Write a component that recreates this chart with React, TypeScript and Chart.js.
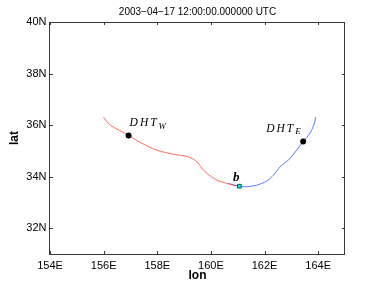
import React, { useEffect, useRef } from "react";
import { Chart, registerables } from "chart.js";

Chart.register(...registerables);

const TITLE = "2003−04−17 12:00:00.000000 UTC";
const X_TICKS = [154, 156, 158, 160, 162, 164];
const Y_TICKS = [32, 34, 36, 38, 40];
const X_MIN = 154;
const X_MAX = 165;
const Y_MIN = 31;
const Y_MAX = 40;

// west branch (red)
const WEST_LON = [155.99, 156.24, 156.93, 157.36, 157.98, 158.6, 159.16, 159.47, 159.78, 160.22, 160.59, 160.83, 161.05];
const WEST_LAT = [36.31, 36.01, 35.6, 35.33, 35.03, 34.87, 34.77, 34.58, 34.19, 33.87, 33.74, 33.67, 33.64];

// east branch (blue)
const EAST_LON = [160.65, 161.06, 161.33, 161.71, 162.08, 162.33, 162.58, 162.95, 163.44, 163.69, 163.84, 163.91];
const EAST_LAT = [33.74, 33.63, 33.61, 33.67, 33.83, 34.06, 34.38, 34.71, 35.36, 35.68, 36.01, 36.31];

// black markers
const DHT_NAMES = ["W", "E"];
const DHT_LON = [156.93, 163.44];
const DHT_LAT = [35.6, 35.36];

// cyan square
const B_LON = [161.06];
const B_LAT = [33.63];

const toXY = (xs: number[], ys: number[]) => xs.map((x, i) => ({ x, y: ys[i] }));

const decorPlugin = {
  id: "decor",
  afterDraw(chart: any) {
    const { ctx, chartArea } = chart;
    const xs = chart.scales.x;
    const ys = chart.scales.y;
    const { left, right, top, bottom } = chartArea;
    ctx.save();
    // frame
    ctx.strokeStyle = "#3a3a3a";
    ctx.lineWidth = 1;
    ctx.strokeRect(Math.round(left) - 0.5, Math.round(top) + 0.5, Math.round(right - left), Math.round(bottom - top));
    // inner ticks
    const tl = 3;
    ctx.beginPath();
    X_TICKS.forEach((v) => {
      const px = Math.round(xs.getPixelForValue(v)) + 0.5;
      ctx.moveTo(px, bottom);
      ctx.lineTo(px, bottom - tl);
      ctx.moveTo(px, top);
      ctx.lineTo(px, top + tl);
    });
    Y_TICKS.forEach((v) => {
      const py = Math.round(ys.getPixelForValue(v)) + 0.5;
      ctx.moveTo(left, py);
      ctx.lineTo(left + tl, py);
      ctx.moveTo(right, py);
      ctx.lineTo(right - tl, py);
    });
    ctx.stroke();

    // title
    ctx.fillStyle = "#000";
    ctx.font = '10px "Liberation Sans", Arial, sans-serif';
    ctx.textAlign = "center";
    ctx.textBaseline = "alphabetic";
    ctx.fillText(TITLE, (left + right) / 2, top - 7);

    // DHT labels
    const drawDHT = (x: number, y: number, sub: string) => {
      ctx.textAlign = "left";
      ctx.font = 'italic 11.5px "Liberation Serif", "DejaVu Serif", serif';
      (ctx as any).letterSpacing = "2px";
      ctx.fillText("DHT", x, y);
      const w = ctx.measureText("DHT").width;
      ctx.font = 'italic 9px "Liberation Serif", "DejaVu Serif", serif';
      (ctx as any).letterSpacing = "0px";
      ctx.fillText(sub, x + w, y + 2.8);
    };
    const wx = xs.getPixelForValue(DHT_LON[0]);
    const wy = ys.getPixelForValue(DHT_LAT[0]);
    drawDHT(wx + 1, wy - 9.5, DHT_NAMES[0]);
    const ex = xs.getPixelForValue(DHT_LON[1]);
    const ey = ys.getPixelForValue(DHT_LAT[1]);
    drawDHT(ex - 37, ey - 10, DHT_NAMES[1]);

    // b label
    const bx = xs.getPixelForValue(B_LON[0]);
    const by = ys.getPixelForValue(B_LAT[0]);
    ctx.font = 'italic bold 13px "Liberation Serif", "DejaVu Serif", serif';
    ctx.textAlign = "center";
    ctx.fillText("b", bx - 3, by - 5);
    ctx.restore();
  },
};

export default function App() {
  const ref = useRef<HTMLCanvasElement | null>(null);
  useEffect(() => {
    if (!ref.current) return;
    const chart = new Chart(ref.current, {
      type: "scatter",
      data: {
        datasets: [
          {
            data: toXY(B_LON, B_LAT),
            pointStyle: "rect",
            pointRadius: 2.6,
            backgroundColor: "#10e8e8",
            borderColor: "#0a5a5a",
            borderWidth: 1,
            showLine: false,
          } as any,
          {
            data: toXY(DHT_LON, DHT_LAT),
            pointRadius: 3,
            backgroundColor: "#000",
            borderColor: "#000",
            borderWidth: 0,
            showLine: false,
          },
          {
            data: toXY(WEST_LON, WEST_LAT),
            showLine: true,
            borderColor: "#ff4530",
            borderWidth: 0.8,
            pointRadius: 0,
            tension: 0.3,
            fill: false,
          },
          {
            data: toXY(EAST_LON, EAST_LAT),
            showLine: true,
            borderColor: "#3358ff",
            borderWidth: 0.8,
            pointRadius: 0,
            tension: 0.3,
            fill: false,
          },
        ],
      },
      options: {
        animation: false,
        responsive: false,
        devicePixelRatio: 1,
        layout: { padding: { top: 22, right: 37, left: 0, bottom: 0 } },
        plugins: {
          legend: { display: false },
          title: { display: false },
          tooltip: { enabled: false },
        },
        scales: {
          x: {
            type: "linear",
            position: "bottom",
            min: X_MIN,
            max: X_MAX,
            afterBuildTicks: (s: any) => {
              s.ticks = X_TICKS.map((v) => ({ value: v }));
            },
            afterFit: (s: any) => {
              s.height = 33;
            },
            grid: { display: false, drawTicks: false },
            border: { display: false },
            ticks: {
              callback: (v: any) => v + "E",
              color: "#000",
              font: { family: '"Liberation Sans", Arial, sans-serif', size: 11 },
              padding: 5,
              maxRotation: 0,
              autoSkip: false,
            },
            title: {
              display: true,
              text: "lon",
              color: "#000",
              font: { family: '"Liberation Sans", Arial, sans-serif', size: 12, weight: "bold" },
              padding: { top: 0, bottom: 4 },
            },
          },
          y: {
            type: "linear",
            position: "left",
            min: Y_MIN,
            max: Y_MAX,
            afterBuildTicks: (s: any) => {
              s.ticks = Y_TICKS.map((v) => ({ value: v }));
            },
            afterFit: (s: any) => {
              s.width = 50;
            },
            grid: { display: false, drawTicks: false },
            border: { display: false },
            ticks: {
              callback: (v: any) => v + "N",
              color: "#000",
              font: { family: '"Liberation Sans", Arial, sans-serif', size: 11 },
              padding: 3.5,
              autoSkip: false,
            },
            title: {
              display: true,
              text: "lat",
              color: "#000",
              font: { family: '"Liberation Sans", Arial, sans-serif', size: 12, weight: "bold" },
              padding: { top: 7, bottom: 0 },
            },
          },
        },
      } as any,
      plugins: [decorPlugin],
    });
    return () => chart.destroy();
  }, []);
  return (
    <div style={{ position: "fixed", left: 0, top: 0, width: 382, height: 287, background: "#fff" }}>
      <canvas ref={ref} width={382} height={287} style={{ display: "block" }} />
    </div>
  );
}
